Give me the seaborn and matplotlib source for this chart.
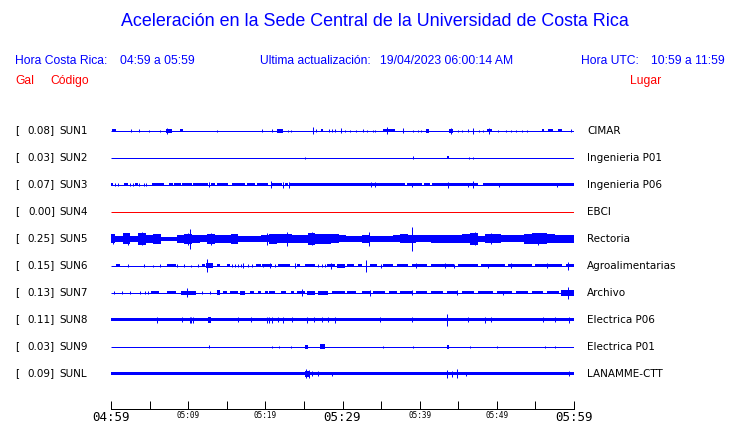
import matplotlib.pyplot as plt
import matplotlib.transforms as mtransforms
import pandas as pd
import seaborn as sns

# stations, top to bottom
stations = ["SUN1", "SUN2", "SUN3", "SUN4", "SUN5", "SUN6", "SUN7", "SUN8", "SUN9", "SUNL"]
places = ["CIMAR", "Ingenieria P01", "Ingenieria P06", "EBCI", "Rectoria",
          "Agroalimentarias", "Archivo", "Electrica P06", "Electrica P01", "LANAMME-CTT"]
peak_gal = [0.08, 0.03, 0.07, 0.00, 0.25, 0.15, 0.13, 0.11, 0.03, 0.09]
trace_colors = ["#0000ff", "#0000ff", "#0000ff", "#ff0000", "#0000ff",
                "#0000ff", "#0000ff", "#0000ff", "#0000ff", "#0000ff"]

# minutes after 04:59 ; amplitudes are half heights of the trace (screen units)
tick_minutes = list(range(0, 61, 5))
big_labels = {0: "04:59", 30: "05:29", 60: "05:59"}
small_labels = {10: "05:09", 20: "05:19", 40: "05:39", 50: "05:49"}

# (start, end, amplitude) bursts and (minute, amplitude) spikes
sun1_blocks = [(0.1, 0.6, 1.5), (7.1, 7.9, 2), (8.9, 9.3, 1.5), (21.5, 22.3, 2), (27.2, 27.5, 1.5),
               (35.2, 36.8, 1.5), (40.8, 41.2, 2), (43.8, 44.3, 2), (48.7, 49.4, 1.5),
               (55.9, 56.1, 1.5), (56.6, 57.3, 1.5), (57.9, 58.4, 1.5)]
sun1_spikes = [(2.6, 1.5), (3.6, 1.5), (4.9, 1), (6.3, 1), (7.3, 3), (13.7, 1), (19.6, 1.5), (20.9, 1.5),
               (22.9, 1), (23.3, 1), (26.2, 3.5), (26.6, 1.5), (28.2, 1.5), (28.6, 1.5), (29.0, 1.5),
               (29.8, 2.5), (30.3, 1), (31.0, 1), (31.7, 1), (32.7, 1.5), (33.2, 1), (34.0, 1), (34.2, 1),
               (35.8, 3.5), (37.8, 2.5), (39.1, 1), (39.8, 1), (40.2, 1), (44.1, 3), (45.0, 1), (45.5, 1),
               (46.3, 1.5), (46.9, 3), (47.7, 1), (48.2, 1), (49.0, 3), (50.1, 1), (51.2, 1), (51.8, 1),
               (52.5, 1), (53.3, 1), (53.9, 1), (59.6, 1.5)]

sun2_blocks = [(43.6, 43.8, 1.5)]
sun2_spikes = [(25.1, 1), (39.1, 1.5), (46.4, 1), (46.9, 1)]

sun3_blocks = [(0.0, 0.26, 1.8), (1.7, 2.2, 1.8), (3.1, 3.5, 1.8), (5.3, 6.9, 1.8), (7.5, 8.0, 1.8),
               (8.2, 9.1, 1.8), (9.2, 10.5, 1.8), (10.6, 12.6, 1.8), (13.0, 13.5, 1.8), (13.7, 15.2, 1.8),
               (15.7, 17.4, 1.8), (17.6, 18.7, 1.8), (18.9, 20.3, 1.8), (20.9, 22.2, 1.8), (22.5, 22.9, 1.8),
               (23.2, 38.1, 1.8), (38.4, 40.3, 1.8), (40.6, 41.3, 1.8), (41.6, 47.6, 1.8), (48.2, 60.0, 1.8)]
sun3_spikes = [(0.5, 1.5), (0.9, 1.5), (2.5, 1.5), (2.9, 1.5), (3.6, 1.5), (4.3, 1.5), (4.6, 1.5),
               (12.7, 2.5), (20.7, 3.5), (22.3, 3), (23.1, 3), (33.7, 2.5), (34.2, 2.5), (39.0, 2),
               (43.7, 3), (46.3, 2), (46.9, 3.5), (50.3, 2), (57.8, 2)]

sun4_blocks = []
sun4_spikes = []

sun5_minutes = list(range(61))
sun5_envelope = [4.5, 3, 5.5, 3, 6, 4, 5, 2, 2, 4, 5, 4, 3.5, 5, 4, 4, 5, 3, 3, 3, 3.5,
                 5, 4.5, 4.5, 4, 4, 6, 5, 5, 4.5, 3.5, 3, 3, 4, 3, 3, 3, 3.5, 4.5, 4,
                 3.5, 3.5, 4, 4, 4, 4, 4.5, 6, 3, 4.5, 4.5, 3.5, 3.5, 3.5, 5, 5.5, 5.5, 4.5, 4, 4, 4]
sun5_blocks = []
sun5_spikes = [(0.3, 5), (2.2, 6), (4.0, 6.5), (10.0, 6), (10.2, 10), (12.9, 6), (20.2, 6), (22.8, 7),
               (26.1, 6.5), (33.4, 7), (39.0, 12), (47.2, 6.5), (49.3, 5.5), (55.3, 6)]

sun6_blocks = [(0.65, 1.17, 1.5), (7.3, 8.4, 1.5), (11.8, 12.2, 1.5), (12.3, 13.2, 2.5), (13.7, 14.1, 1.5),
               (15.0, 15.4, 1.5), (18.8, 19.4, 1.5), (19.6, 20.9, 1.5), (21.6, 23.2, 1.5), (24.1, 24.5, 1.5),
               (25.1, 26.4, 1.5), (28.0, 29.0, 1.5), (29.3, 30.3, 2), (30.6, 31.5, 1.5), (32.0, 32.5, 1.5),
               (33.6, 34.5, 1.5), (35.2, 36.5, 1.5), (37.0, 38.5, 1.5), (39.0, 41.0, 1.5), (41.5, 44.5, 1.5),
               (45.0, 47.5, 1.5), (48.0, 51.0, 1.5), (51.5, 54.5, 1.5), (55.0, 58.5, 1.5), (59.0, 60.0, 1.5)]
sun6_spikes = [(2.2, 1.5), (4.3, 1.5), (5.4, 1), (6.3, 1.5), (8.6, 1.5), (9.5, 1.5), (10.4, 1), (11.3, 1.5),
               (12.5, 6.5), (15.7, 1.5), (16.1, 1.5), (16.5, 1.5), (16.8, 1.5), (17.1, 2.5), (17.7, 1.5),
               (18.3, 1.5), (19.7, 1.5), (20.6, 2.5), (21.2, 1.5), (23.9, 2.5), (26.8, 1.5), (27.3, 1.5),
               (27.7, 1.5), (28.5, 3), (33.0, 6), (35.0, 2), (39.5, 2.5), (43.3, 2.5), (44.5, 2),
               (48.9, 2), (51.8, 2.5), (56.5, 2.5), (59.2, 4)]

sun7_blocks = [(5.2, 6.2, 1.7), (7.3, 8.4, 1.7), (9.1, 9.8, 2), (9.8, 11.0, 2), (13.7, 14.1, 2.5),
               (14.5, 15.0, 1.7), (15.4, 16.5, 1.7), (16.7, 17.4, 2), (18.0, 18.5, 1.7), (19.0, 19.4, 1.7),
               (20.0, 20.3, 1.7), (20.5, 21.3, 1.7), (22.0, 22.7, 1.7), (23.3, 23.7, 1.7), (24.1, 25.1, 1.7),
               (25.4, 26.4, 2), (26.8, 28.1, 2), (28.7, 30.3, 1.7), (30.6, 31.8, 1.7), (32.5, 33.5, 1.7),
               (34.0, 35.5, 1.7), (36.0, 37.0, 1.7), (37.5, 39.0, 1.7), (39.5, 41.0, 1.7), (41.5, 43.0, 1.7),
               (43.5, 45.0, 1.7), (45.5, 47.0, 1.7), (47.5, 49.5, 1.7), (50.0, 52.0, 1.7), (52.5, 54.0, 1.7),
               (54.5, 56.0, 1.7), (56.5, 58.0, 1.7), (58.3, 60.0, 3)]
sun7_spikes = [(0.4, 1.5), (1.4, 1.5), (2.5, 1.5), (3.8, 1.5), (4.4, 1.5), (4.8, 1.5), (9.9, 4.5),
               (11.8, 1.5), (12.8, 1.5), (24.7, 3.5), (33.6, 3), (39.0, 2.5), (44.8, 2.5), (50.8, 2),
               (59.2, 6)]

sun8_blocks = [(0.0, 60.0, 1.7), (12.6, 13.0, 3)]
sun8_spikes = [(6.0, 3), (9.2, 2.5), (10.2, 3), (10.4, 3), (10.6, 3), (16.4, 2.5), (18.2, 2.5), (20.2, 3),
               (20.5, 3), (20.9, 3), (21.6, 2.5), (22.3, 3), (23.4, 2.5), (25.4, 3), (26.3, 2.5),
               (27.4, 2.5), (28.1, 2.5), (29.0, 3), (34.9, 2.5), (39.0, 2.5), (43.5, 6), (46.3, 2.5),
               (48.5, 3), (49.2, 2.5), (56.0, 2.5), (57.5, 2.5), (59.4, 3)]

sun9_blocks = [(25.1, 25.5, 2), (27.1, 27.7, 2.5), (43.5, 43.8, 2)]
sun9_spikes = [(12.7, 1.5), (20.9, 1), (21.8, 1), (23.3, 1), (35.3, 1), (39.1, 1), (46.5, 1),
               (50.0, 1), (56.2, 1), (57.6, 1)]

sunl_blocks = [(0.0, 60.0, 1.7), (25.2, 25.7, 3)]
sunl_spikes = [(25.3, 4.5), (25.6, 4), (26.1, 2.5), (26.8, 2.5), (28.7, 2), (43.5, 4), (44.2, 3),
               (44.8, 4.5), (46.0, 2), (59.3, 2.5)]

all_blocks = [sun1_blocks, sun2_blocks, sun3_blocks, sun4_blocks, sun5_blocks,
              sun6_blocks, sun7_blocks, sun8_blocks, sun9_blocks, sunl_blocks]
all_spikes = [sun1_spikes, sun2_spikes, sun3_spikes, sun4_spikes, sun5_spikes,
              sun6_spikes, sun7_spikes, sun8_spikes, sun9_spikes, sunl_spikes]

W, H = 740, 423
ROW = 27.0          # screen units per trace row
PX = 0.72           # one pixel in points
TOP = 130.5         # pixel centre of the first trace

sns.set_theme(style="white")
plt.rcParams["font.family"] = ["Liberation Sans", "DejaVu Sans"]

fig = plt.figure(figsize=(W / 100, H / 100), dpi=100)
ax = fig.add_axes([111 / W, 1 - 409 / H, 463 / W, 294 / H])

# thin base line of every trace
base = pd.DataFrame({
    "minute": [0, 60] * len(stations),
    "row": [i for i in range(len(stations)) for _ in range(2)],
    "station": [s for s in stations for _ in range(2)],
})
sns.lineplot(data=base, x="minute", y="row", hue="station", units="station", estimator=None,
             palette=dict(zip(stations, trace_colors)), lw=PX, legend=False, ax=ax,
             solid_capstyle="butt")

for i, color in enumerate(trace_colors):
    for s, e, a in all_blocks[i]:
        ax.fill_between([s, e], i - a / ROW, i + a / ROW, color=color, lw=0, antialiased=False)
    if all_spikes[i]:
        xs = [m for m, _ in all_spikes[i]]
        lo = [i - a / ROW for _, a in all_spikes[i]]
        hi = [i + a / ROW for _, a in all_spikes[i]]
        ax.vlines(xs, lo, hi, color=color, lw=PX)

row5 = stations.index("SUN5")
ax.fill_between(sun5_minutes, [row5 - a / ROW for a in sun5_envelope],
                [row5 + a / ROW for a in sun5_envelope], step="mid",
                color=trace_colors[row5], lw=0, antialiased=False)

ax.set_xlim(0, 60)
ax.set_ylim((409 - TOP) / ROW, (115 - TOP) / ROW)
ax.set_yticks([])
ax.set_xlabel("")
ax.set_ylabel("")
for side in ["top", "left", "right"]:
    ax.spines[side].set_visible(False)
ax.spines["bottom"].set_color("black")
ax.spines["bottom"].set_linewidth(PX)
ax.patch.set_alpha(0)

ax.set_xticks(tick_minutes)
ax.set_xticklabels([big_labels.get(m, small_labels.get(m, "")) for m in tick_minutes])
ax.tick_params(axis="x", direction="in", length=8 * PX, width=PX, color="black", pad=1.5,
               bottom=True)
for m, lab in zip(tick_minutes, ax.get_xticklabels()):
    lab.set_family("DejaVu Sans Mono")
    lab.set_color("black")
    lab.set_fontsize(9 if m in big_labels else 5.5)

# station labels
tr = mtransforms.blended_transform_factory(fig.transFigure, ax.transData)
for i, (st, pl, g) in enumerate(zip(stations, places, peak_gal)):
    kw = dict(transform=tr, va="center", fontsize=7.5, color="black", family="DejaVu Sans")
    ax.text(15 / W, i, "[", ha="left", **kw)
    ax.text(55 / W, i, f"{g:.2f}]", ha="right", **kw)
    ax.text(59 / W, i, st, ha="left", **kw)
    ax.text(587 / W, i, pl, ha="left", **kw)

blue = "#0000ff"
red = "#ff0000"


def put(x, y, s, color, size, ha="left"):
    fig.text(x / W, 1 - y / H, s, color=color, fontsize=size, ha=ha, va="center")


put(375, 22, "Aceleración en la Sede Central de la Universidad de Costa Rica", blue, 12.9, ha="center")
put(15, 61, "Hora Costa Rica:", blue, 8.7)
put(120, 61, "04:59 a 05:59", blue, 8.7)
put(260, 61, "Ultima actualización:", blue, 8.7)
put(380, 61, "19/04/2023 06:00:14 AM", blue, 8.7)
put(581, 61, "Hora UTC:", blue, 8.7)
put(651, 61, "10:59 a 11:59", blue, 8.7)
put(15, 81, "Gal", red, 8.7)
put(50, 81, "Código", red, 8.7)
put(630, 81, "Lugar", red, 8.7)

fig.savefig("out.png", dpi=100)
